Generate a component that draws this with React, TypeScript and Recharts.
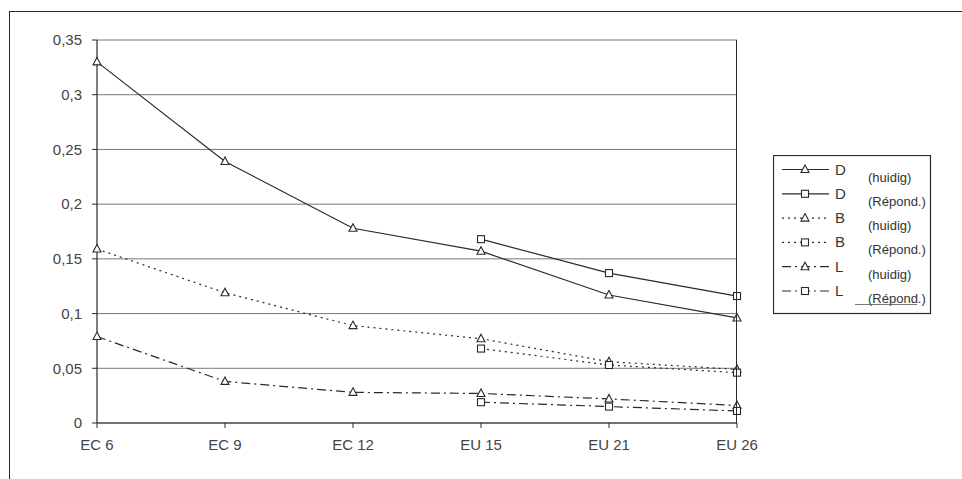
import React from 'react';
import { LineChart, Line, XAxis, YAxis, CartesianGrid } from 'recharts';

const categories = ['EC 6', 'EC 9', 'EC 12', 'EU 15', 'EU 21', 'EU 26'];
const dHuidig = [0.33, 0.239, 0.178, 0.157, 0.117, 0.096];
const dRepond = [null, null, null, 0.168, 0.137, 0.116];
const bHuidig = [0.159, 0.119, 0.089, 0.077, 0.056, 0.049];
const bRepond = [null, null, null, 0.068, 0.053, 0.046];
const lHuidig = [0.079, 0.038, 0.028, 0.027, 0.022, 0.016];
const lRepond = [null, null, null, 0.019, 0.015, 0.011];
const yTicks = [0, 0.05, 0.1, 0.15, 0.2, 0.25, 0.3, 0.35];

const seriesInfo = [
  { key: 'dH', letter: 'D', sub: '(huidig)', dash: undefined, marker: 'tri' },
  { key: 'dR', letter: 'D', sub: '(Répond.)', dash: undefined, marker: 'sq' },
  { key: 'bH', letter: 'B', sub: '(huidig)', dash: '2 4', marker: 'tri' },
  { key: 'bR', letter: 'B', sub: '(Répond.)', dash: '2 4', marker: 'sq' },
  { key: 'lH', letter: 'L', sub: '(huidig)', dash: '9 4 2 4', marker: 'tri' },
  { key: 'lR', letter: 'L', sub: '(Répond.)', dash: '9 4 2 4', marker: 'sq' },
];

const data = categories.map((c, i) => ({
  name: c,
  dH: dHuidig[i],
  dR: dRepond[i],
  bH: bHuidig[i],
  bR: bRepond[i],
  lH: lHuidig[i],
  lR: lRepond[i],
}));

const INK = '#2a2a2a';
const FONT = '"Liberation Sans", Arial, sans-serif';

function triPath(cx: number, cy: number) {
  return `M${cx},${cy - 4.5} L${cx + 4},${cy + 3} L${cx - 4},${cy + 3} Z`;
}

function makeDot(kind: string) {
  return (props: any) => {
    const { cx, cy, value, index } = props;
    const k = `d-${kind}-${index}`;
    if (value == null || cx == null || cy == null || isNaN(cy)) return <g key={k} />;
    if (kind === 'tri') {
      return <path key={k} d={triPath(cx, cy)} fill="#fff" stroke={INK} strokeWidth={1.1} />;
    }
    return <rect key={k} x={cx - 3.5} y={cy - 3.5} width={7} height={7} fill="#fff" stroke={INK} strokeWidth={1.1} />;
  };
}

const fmt = (v: number) => (v === 0 ? '0' : String(v).replace('.', ','));

const LegendBox = () => {
  const rowH = 24.3;
  return (
    <svg width={160} height={160} style={{ display: 'block' }}>
      <rect x={0.5} y={0.5} width={157} height={158} fill="#fff" stroke={INK} strokeWidth={1.2} />
      {seriesInfo.map((s, i) => {
        const y = 14.5 + i * rowH;
        return (
          <g key={s.key}>
            <line x1={9} x2={56} y1={y} y2={y} stroke={INK} strokeWidth={1.2} strokeDasharray={s.dash} />
            {s.marker === 'tri' ? (
              <path d={triPath(32, y)} fill="#fff" stroke={INK} strokeWidth={1.1} />
            ) : (
              <rect x={28.5} y={y - 3.5} width={7} height={7} fill="#fff" stroke={INK} strokeWidth={1.1} />
            )}
            <text x={62} y={y + 5} fontSize={15} fill="#333" fontFamily={FONT}>{s.letter}</text>
            <text x={95} y={y + 12} fontSize={13} fill="#333" fontFamily={FONT}>{s.sub}</text>
          </g>
        );
      })}
      <line x1={82} x2={144} y1={149.5} y2={149.5} stroke="#555" strokeWidth={0.8} />
    </svg>
  );
};

export default function App() {
  return (
    <div style={{ position: 'absolute', left: 0, top: 0, width: 962, height: 479, background: '#fff', overflow: 'hidden' }}>
      <div style={{ position: 'absolute', left: 9, top: 11, width: 960, height: 470, borderLeft: `1.5px solid ${INK}`, borderTop: `1.5px solid ${INK}` }} />
      <div style={{ position: 'absolute', left: 0, top: 0 }}>
        <LineChart width={962} height={479} data={data} margin={{ top: 40, right: 225, bottom: 26, left: 37 }}>
          <CartesianGrid vertical={false} stroke="#777" strokeWidth={1} />
          <XAxis
            dataKey="name"
            axisLine={{ stroke: INK, strokeWidth: 1.2 }}
            tickLine={{ stroke: INK }}
            tickSize={5}
            tickMargin={11}
            height={30}
            tick={{ fontSize: 15, fill: '#444', fontFamily: FONT }}
            interval={0}
          />
          <YAxis
            domain={[0, 0.35]}
            ticks={yTicks}
            tickFormatter={fmt}
            width={60}
            axisLine={{ stroke: INK, strokeWidth: 1.2 }}
            tickLine={{ stroke: INK }}
            tickSize={5}
            tickMargin={10}
            tick={{ fontSize: 15, fill: '#444', fontFamily: FONT }}
            allowDataOverflow
          />
          {seriesInfo.map((s) => (
            <Line
              key={s.key}
              dataKey={s.key}
              type="linear"
              stroke={INK}
              strokeWidth={1.2}
              strokeDasharray={s.dash}
              dot={makeDot(s.marker)}
              activeDot={false}
              isAnimationActive={false}
              connectNulls={false}
            />
          ))}
        </LineChart>
      </div>
      <div style={{ position: 'absolute', left: 736, top: 40, width: 1.2, height: 383, background: INK }} />
      <div style={{ position: 'absolute', left: 773, top: 155 }}>
        <LegendBox />
      </div>
    </div>
  );
}
